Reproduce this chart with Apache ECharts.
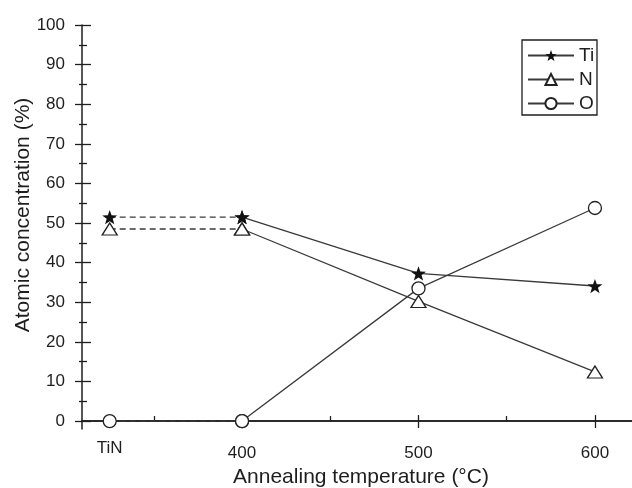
<!DOCTYPE html>
<html>
<head>
<meta charset="utf-8">
<script src="https://cdn.jsdelivr.net/npm/echarts@6/dist/echarts.min.js"></script>
<style>html,body{margin:0;padding:0;background:#fff}#chart{width:632px;height:488px}</style>
</head>
<body>
<div id="chart"></div>
<script>
// Surface composition of TiN films vs. annealing temperature.
// The as-deposited film ("TiN") sits at 325 on the temperature axis.
const temps = [325, 400, 500, 600];
const tiValues = [51.5, 51.5, 37.3, 34.1];
const nValues  = [48.5, 48.5, 30.2, 12.4];
const oValues  = [0, 0, 33.5, 53.8];

const xLabelValues = [325, 400, 500, 600];
const xLabelTexts  = ['TiN', '400', '500', '600'];
const xMajorTicks  = [400, 500, 600];
const xMinorTicks  = [350, 450, 550];
const yMajorTicks  = [0, 10, 20, 30, 40, 50, 60, 70, 80, 90, 100];
const yMinorTicks  = [5, 15, 25, 35, 45, 55, 65, 75, 85, 95];

const INK = '#1e1e1e';
const LINE = '#3a3a3a';
const FONT = 'Liberation Sans, Arial, Helvetica, sans-serif';
const STAR = 'path://M0,-10L2.35,-3.24L9.51,-3.09L3.8,1.24L5.88,8.09L0,4.2L-5.88,8.09L-3.8,1.24L-9.51,-3.09L-2.35,-3.24Z';

const X_MIN = 309.3, X_MAX = 621;
const Y_MIN = -2, Y_MAX = 100;

function pairs(vals, from, to) {
  const out = [];
  for (let i = from; i <= to; i++) out.push([temps[i], vals[i]]);
  return out;
}

const markers = {
  Ti: { symbol: STAR, symbolSize: 15, itemStyle: { color: '#111', borderColor: '#111', borderWidth: 0 } },
  N:  { symbol: 'triangle', symbolSize: [15, 12], itemStyle: { color: '#fff', borderColor: '#222', borderWidth: 1.3 } },
  O:  { symbol: 'circle', symbolSize: 13, itemStyle: { color: '#fff', borderColor: '#222', borderWidth: 1.3 } }
};

function makeSeries(name, vals) {
  const m = markers[name];
  return [
    {
      name: name + ' (as-deposited)', type: 'line', data: pairs(vals, 0, 1),
      symbol: m.symbol, symbolSize: m.symbolSize, symbolKeepAspect: true,
      itemStyle: m.itemStyle, lineStyle: { color: LINE, width: 1.3, type: [6, 4] },
      animation: false, z: 3
    },
    {
      name: name, type: 'line', data: pairs(vals, 1, 3),
      symbol: m.symbol, symbolSize: m.symbolSize, symbolKeepAspect: true,
      itemStyle: m.itemStyle, lineStyle: { color: LINE, width: 1.3 },
      animation: false, z: 4
    }
  ];
}

const baseX = { type: 'value', min: X_MIN, max: X_MAX, position: 'bottom', splitLine: { show: false } };
const baseY = { type: 'value', min: Y_MIN, max: Y_MAX, position: 'left', splitLine: { show: false } };
const tickLine = { color: INK, width: 1.3 };

const option = {
  backgroundColor: '#fff',
  animation: false,
  grid: { left: 82, right: 0, top: 25, bottom: 59, containLabel: false, outerBoundsMode: 'none' },
  legend: {
    data: ['Ti', 'N', 'O'],
    orient: 'vertical',
    left: 522, top: 41,
    itemWidth: 46, itemHeight: 14, itemGap: 5,
    textStyle: { color: INK, fontSize: 19, fontFamily: FONT, lineHeight: 14 },
    selectedMode: false
  },
  xAxis: [
    Object.assign({}, baseX, {
      axisLine: { show: true, lineStyle: { color: INK, width: 1.5 } },
      axisTick: { show: true, customValues: xMajorTicks, inside: false, length: 7, lineStyle: tickLine },
      axisLabel: {
        show: true, customValues: xLabelValues, margin: 11,
        formatter: function (v) {
          const i = xLabelValues.indexOf(v);
          const t = i >= 0 ? xLabelTexts[i] : '';
          return i === 0 ? '{a|' + t + '}' : '{b|' + t + '}';
        },
        rich: {
          a: { fontSize: 17, fontFamily: FONT, color: INK },
          b: { fontSize: 17, fontFamily: FONT, color: INK, padding: [5, 0, 0, 0] }
        }
      },
      name: 'Annealing temperature (°C)', nameLocation: 'middle', nameGap: 38, nameMoveOverlap: false,
      nameTextStyle: { color: INK, fontSize: 21, fontFamily: FONT, padding: [0, 0, 0, 8] }
    }),
    Object.assign({}, baseX, {
      axisLine: { show: false },
      axisTick: { show: true, customValues: xMajorTicks, inside: true, length: 6, lineStyle: tickLine },
      axisLabel: { show: false }
    }),
    Object.assign({}, baseX, {
      axisLine: { show: false },
      axisTick: { show: true, customValues: xMinorTicks, inside: true, length: 5, lineStyle: tickLine },
      axisLabel: { show: false }
    }),
    Object.assign({}, baseX, {
      position: 'top',
      axisLine: { show: true, lineStyle: { color: INK, width: 1.5 } },
      axisTick: { show: false }, axisLabel: { show: false }
    })
  ],
  yAxis: [
    Object.assign({}, baseY, {
      axisLine: { show: true, lineStyle: { color: INK, width: 1.5 } },
      axisTick: { show: true, customValues: yMajorTicks, inside: false, length: 7, lineStyle: tickLine },
      axisLabel: { show: true, customValues: yMajorTicks, margin: 17, fontSize: 17, fontFamily: FONT, color: INK },
      name: 'Atomic concentration (%)', nameLocation: 'middle', nameGap: 48, nameMoveOverlap: false,
      nameTextStyle: { color: INK, fontSize: 21, fontFamily: FONT, padding: [0, 0, 0, 24] }
    }),
    Object.assign({}, baseY, {
      axisLine: { show: false },
      axisTick: { show: true, customValues: yMajorTicks, inside: true, length: 9, lineStyle: tickLine },
      axisLabel: { show: false }
    }),
    Object.assign({}, baseY, {
      axisLine: { show: false },
      axisTick: { show: true, customValues: yMinorTicks, inside: false, length: 3, lineStyle: tickLine },
      axisLabel: { show: false }
    }),
    Object.assign({}, baseY, {
      axisLine: { show: false },
      axisTick: { show: true, customValues: yMinorTicks, inside: true, length: 5, lineStyle: tickLine },
      axisLabel: { show: false }
    })
  ],
  graphic: [
    // frame around the legend
    { type: 'rect', shape: { x: 522, y: 40, width: 75, height: 75 },
      style: { fill: 'none', stroke: INK, lineWidth: 1.3 }, z: 100 }
  ],
  series: [].concat(
    makeSeries('Ti', tiValues),
    makeSeries('N', nValues),
    makeSeries('O', oValues)
  )
};

const chart = echarts.init(document.getElementById('chart'), null, { renderer: 'canvas' });
chart.setOption(option);
</script>
</body>
</html>
